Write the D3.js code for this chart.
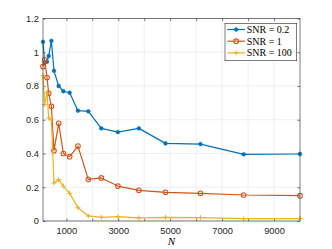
<!DOCTYPE html>
<html><head><meta charset="utf-8">
<script src="https://cdn.jsdelivr.net/npm/d3@7"></script>
<style>html,body{margin:0;padding:0;background:#fff;}</style>
</head><body>
<svg id="c" width="332" height="249"></svg>
<script>
const N = [100, 165, 254, 319, 423, 523, 704, 885, 1127, 1446, 1846, 2346, 2985, 3792, 4819, 6165, 7831, 10000];
const snr02 = [1.062, 0.938, 0.944, 0.978, 1.068, 0.89, 0.80, 0.769, 0.76, 0.654, 0.65, 0.549, 0.527, 0.549, 0.46, 0.456, 0.395, 0.397];
const snr1 = [0.915, 0.955, 0.85, 0.757, 0.68, 0.417, 0.579, 0.40, 0.381, 0.444, 0.247, 0.255, 0.207, 0.182, 0.170, 0.164, 0.154, 0.15];
const snr100 = [0.86, 0.69, 0.76, 0.61, 0.60, 0.225, 0.245, 0.207, 0.164, 0.079, 0.030, 0.022, 0.026, 0.018, 0.022, 0.020, 0.014, 0.014];
const seriesNames = ["SNR = 0.2", "SNR = 1", "SNR = 100"];
const xTicks = [1000, 2000, 3000, 4000, 5000, 6000, 7000, 8000, 9000];
const xTickLabels = ["1000", "", "3000", "", "5000", "", "7000", "", "9000"];
const yTicks = [0, 0.2, 0.4, 0.6, 0.8, 1, 1.2];
const yTickLabels = ["0", "0.2", "0.4", "0.6", "0.8", "1", "1.2"];

const colors = ["#0072BD", "#D95319", "#EDB120"];
const markers = ["dot", "circle", "plus"];
const svg = d3.select("#c");
const L = 43, R = 300, T = 18.5, B = 221;
const x = d3.scaleLinear().domain([100, 10000]).range([L, R]);
const y = d3.scaleLinear().domain([0, 1.2]).range([B, T]);
const axisColor = "#262626";

// grid
const g = svg.append("g");
g.selectAll(".gx").data(xTicks).enter().append("line")
  .attr("x1", d => x(d)).attr("x2", d => x(d)).attr("y1", T).attr("y2", B)
  .attr("stroke", "#e6e6e6").attr("stroke-width", 0.6);
g.selectAll(".gy").data(yTicks).enter().append("line")
  .attr("x1", L).attr("x2", R).attr("y1", d => y(d)).attr("y2", d => y(d))
  .attr("stroke", "#e6e6e6").attr("stroke-width", 0.6);

// axes via d3 axis
const xAxis = d3.axisBottom(x).tickValues(xTicks).tickSizeInner(-2.6).tickSizeOuter(0)
  .tickPadding(6).tickFormat((d, i) => xTickLabels[i]);
const xg = svg.append("g").attr("transform", `translate(0,${B})`).call(xAxis);
const yAxis = d3.axisLeft(y).tickValues(yTicks).tickSizeInner(-2.6).tickSizeOuter(0)
  .tickPadding(4).tickFormat((d, i) => yTickLabels[i]);
const yg = svg.append("g").attr("transform", `translate(${L},0)`).call(yAxis);
const xTop = d3.axisTop(x).tickValues(xTicks).tickSizeInner(-2.6).tickSizeOuter(0).tickFormat("");
svg.append("g").attr("transform", `translate(0,${T})`).call(xTop);
const yRight = d3.axisRight(y).tickValues(yTicks).tickSizeInner(-2.6).tickSizeOuter(0).tickFormat("");
svg.append("g").attr("transform", `translate(${R},0)`).call(yRight);
svg.selectAll(".domain").attr("stroke", "none");
svg.selectAll(".tick line").attr("stroke", axisColor).attr("stroke-width", 0.6);
svg.selectAll(".tick text").attr("fill", axisColor)
  .style("font-family", "Liberation Sans, Arial, sans-serif").style("font-size", "9.3px");

const allSeries = [snr02, snr1, snr100];
const line = d3.line().x(d => x(d[0])).y(d => y(d[1]));

function drawMarker(sel, type, color) {
  if (type === "dot") {
    sel.append("circle").attr("r", 1.9).attr("fill", color).attr("stroke", color).attr("stroke-width", 0.5);
  } else if (type === "circle") {
    sel.append("circle").attr("r", 2.3).attr("fill", "none").attr("stroke", color).attr("stroke-width", 1.1);
  } else {
    sel.append("path").attr("d", "M-2.5,0H2.5M0,-2.5V2.5").attr("stroke", color).attr("stroke-width", 1);
  }
}

allSeries.forEach((vals, i) => {
  const pts = N.map((n, j) => [n, vals[j]]);
  svg.append("path").datum(pts).attr("d", line).attr("fill", "none")
    .attr("stroke", colors[i]).attr("stroke-width", 1.2).attr("stroke-linejoin", "round");
  pts.forEach(p => {
    const m = svg.append("g").attr("transform", `translate(${x(p[0])},${y(p[1])})`);
    drawMarker(m, markers[i], colors[i]);
  });
});

// box
svg.append("rect").attr("x", L).attr("y", T).attr("width", R - L).attr("height", B - T)
  .attr("fill", "none").attr("stroke", axisColor).attr("stroke-width", 0.6);

// x label
svg.append("text").attr("x", (L + R) / 2).attr("y", 245).attr("text-anchor", "middle")
  .style("font-family", "Liberation Serif, Times New Roman, serif").style("font-style", "italic")
  .style("font-size", "11px").attr("fill", "#000").text("N");

// legend
const lg = svg.append("g");
lg.append("rect").attr("x", 225).attr("y", 23.3).attr("width", 71.7).attr("height", 37.4)
  .attr("fill", "#fff").attr("stroke", axisColor).attr("stroke-width", 0.6);
seriesNames.forEach((name, i) => {
  const yy = 29.5 + i * 11.7;
  lg.append("line").attr("x1", 227.3).attr("x2", 245).attr("y1", yy).attr("y2", yy)
    .attr("stroke", colors[i]).attr("stroke-width", 1.2);
  const m = lg.append("g").attr("transform", `translate(236.2,${yy})`);
  drawMarker(m, markers[i], colors[i]);
  lg.append("text").attr("x", 246.7).attr("y", yy + 3.4)
    .style("font-family", "Liberation Serif, Times New Roman, serif").style("font-size", "10px")
    .attr("fill", "#000").text(name);
});
</script>
</body></html>
